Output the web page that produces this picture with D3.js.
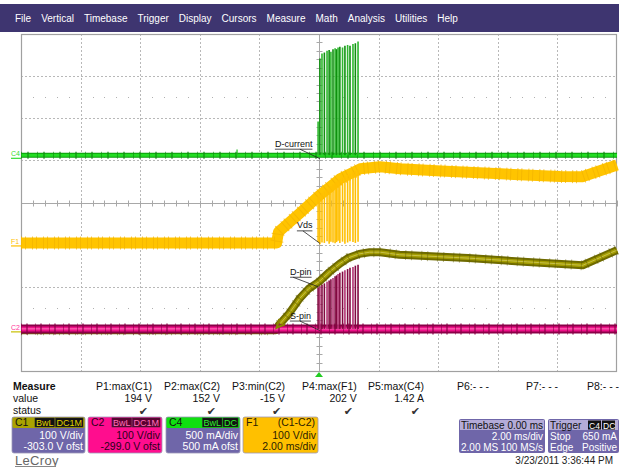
<!DOCTYPE html>
<html><head><meta charset="utf-8">
<script src="https://cdn.jsdelivr.net/npm/d3@7"></script>
<style>
body{margin:0;background:#fff;}
svg{display:block;font-family:"Liberation Sans",Arial,sans-serif;}
</style></head>
<body><svg id="c" width="619" height="467"></svg>
<script>
// ---------------- DATA ----------------
const menuItems = ["File","Vertical","Timebase","Trigger","Display","Cursors","Measure","Math","Analysis","Utilities","Help"];

// time in ms, 2 ms/div, 10 divisions
const c1Time  = [-10, -1.45, -1.35, -1.0, -0.65, -0.35, 0, 0.35, 0.7, 1.0, 1.35, 1.7, 2.05, 2.7, 5.0, 7.0, 8.85, 10];
const c1Volts = [0, 0, 12, 40, 75, 98, 115, 138, 158, 172, 181, 185, 185, 179, 171, 162, 154, 190];

const f1Time  = [-10, -1.42, -1.36, -1.3, -0.64, 0, 0.7, 1.38, 2.05, 2.72, 4.1, 6.1, 8.1, 8.83, 10];
const f1Volts = [0, 0, 26, 30, 71, 112, 152, 176, 181, 176, 171, 164, 158, 157, 185];

const c2Time  = [-10, 10];
const c2Volts = [0, 0];

const c4Time  = [-10, 10];
const c4Amps  = [0, 0];
const c4GlitchTime = [-2.75];
const c4GlitchAmps = [0.07];

// switching pulses
const pulseTime = [-0.03, 0.03, 0.10, 0.18, 0.27, 0.34, 0.40, 0.47, 0.54, 0.59, 0.64, 0.70, 0.79, 0.87, 0.96, 1.04, 1.14, 1.22, 1.31];
const c4Peak    = [0.40, 1.15, 1.21, 1.22, 1.24, 1.25, 1.23, 1.26, 1.27, 1.26, 1.28, 1.29, 1.28, 1.30, 1.31, 1.30, 1.32, 1.33, 1.35];
const c2Peak    = [98, 102, 105, 108, 112, 115, 118, 121, 125, 127, 130, 133, 136, 139, 142, 145, 147, 150, 152];
const f1Dip     = [2, -3, 1, 0, 4, -2, 3, 1, -1, 2, 5, 0, 3, -2, 1, 4, 2, 0, 3];

// channel settings: units per division and trace zero position (divisions from centre)
const channels = {
  C1: {perDiv: 100, zeroDiv: -3.03},
  C2: {perDiv: 100, zeroDiv: -3.0},
  C4: {perDiv: 0.5, zeroDiv: 1.12},
  F1: {perDiv: 100, zeroDiv: -0.96}
};

const annotations = [
  {label: "D-current", ch: "C4", t: 0.03,  v: -0.04, dx: -45, dy: -12, lead: 25},
  {label: "Vds",       ch: "F1", t: 0.03,  v: -1,    dx: -23, dy: -15, lead: 6},
  {label: "D-pin",     ch: "C1", t: -0.03, v: 103,   dx: -28, dy: -12, lead: 3},
  {label: "S-pin",     ch: "C2", t: 0.03,  v: -4,    dx: -30, dy: -12, lead: 10}
];

const measureLabels = ["P1:max(C1)","P2:max(C2)","P3:min(C2)","P4:max(F1)","P5:max(C4)","P6:- - -","P7:- - -","P8:- - -"];
const measureValues = ["194 V","152 V","-15 V","202 V","1.42 A","","",""];
const measureStatus = [true,true,true,true,true,false,false,false];

const chanBoxes = [
  {name:"C1", head:["BwL","DC1M"], l1:"100 V/div", l2:"-303.0 V ofst", headFill:"#aaa300", bodyFill:"#6f66a9", text:"#fff", badgeFill:"#111", badgeText:"#e0d400", nameText:"#111"},
  {name:"C2", head:["BwL","DC1M"], l1:"100 V/div", l2:"-299.0 V ofst", headFill:"#ff0d8e", bodyFill:"#ff0d8e", text:"#2a0018", badgeFill:"#5a0030", badgeText:"#ff70b8", nameText:"#2a0018"},
  {name:"C4", head:["BwL","DC"],   l1:"500 mA/div", l2:"500 mA ofst",  headFill:"#10e010", bodyFill:"#6f66a9", text:"#fff", badgeFill:"#111", badgeText:"#30f030", nameText:"#111"},
  {name:"F1", head:["(C1-C2)"],    l1:"100 V/div", l2:"2.00 ms/div",   headFill:"#ffc000", bodyFill:"#ffc000", text:"#2a2000", badgeFill:null, badgeText:"#2a2000", nameText:"#2a2000"}
];

// ---------------- DRAW ----------------
const svg = d3.select("#c");
const W = 619, H = 467;
const plot = {l: 21, r: 617, t: 34, b: 371};
const x = d3.scaleLinear().domain([-10, 10]).range([plot.l, plot.r]);
const yDiv = d3.scaleLinear().domain([-4, 4]).range([plot.b, plot.t]);
const yCh = (ch, v) => yDiv(v / channels[ch].perDiv + channels[ch].zeroDiv);

// menu bar
svg.append("rect").attr("x", 0).attr("y", 4).attr("width", W).attr("height", 28).attr("fill", "#3e3570");
let mx = 15;
menuItems.forEach(m => {
  const t = svg.append("text").attr("x", mx).attr("y", 22).attr("fill", "#fff")
    .attr("font-size", 10).text(m);
  mx += t.node().getComputedTextLength() + 10;
});

// grid
const g = svg.append("g");
const xDivs = d3.range(-10, 10.01, 2);
const yDivs = d3.range(-4, 4.01, 1);
g.selectAll(".vg").data(xDivs.filter(d => d !== 0 && Math.abs(d) !== 10)).join("line")
  .attr("x1", d => Math.round(x(d)) + 0.5).attr("x2", d => Math.round(x(d)) + 0.5)
  .attr("y1", plot.t).attr("y2", plot.b).attr("stroke", "#b8b8b8").attr("stroke-dasharray", "2,2");
g.selectAll(".hg").data(yDivs.filter(d => d !== 0 && Math.abs(d) !== 4)).join("line")
  .attr("y1", d => Math.round(yDiv(d)) + 0.5).attr("y2", d => Math.round(yDiv(d)) + 0.5)
  .attr("x1", plot.l).attr("x2", plot.r).attr("stroke", "#b8b8b8").attr("stroke-dasharray", "2,2");
// centre axes with minor ticks
const cx = Math.round(x(0)) + 0.5, cy = Math.round(yDiv(0)) + 0.5;
g.append("line").attr("x1", cx).attr("x2", cx).attr("y1", plot.t).attr("y2", plot.b).attr("stroke", "#a8a8a8");
g.append("line").attr("y1", cy).attr("y2", cy).attr("x1", plot.l).attr("x2", plot.r).attr("stroke", "#a8a8a8");
const xMinor = d3.range(-10, 10.001, 0.4);
const yMinor = d3.range(-4, 4.001, 0.2);
g.selectAll(".xt").data(xMinor).join("line")
  .attr("x1", d => Math.round(x(d)) + 0.5).attr("x2", d => Math.round(x(d)) + 0.5)
  .attr("y1", cy - 3).attr("y2", cy + 3).attr("stroke", "#a8a8a8");
g.selectAll(".yt").data(yMinor).join("line")
  .attr("y1", d => Math.round(yDiv(d)) + 0.5).attr("y2", d => Math.round(yDiv(d)) + 0.5)
  .attr("x1", cx - 3).attr("x2", cx + 3).attr("stroke", "#a8a8a8");
// dotted rows at +/-2.5 div
[2.5, -2.5].forEach(r => {
  g.selectAll(null).data(xMinor.filter(d => Math.abs(Math.round(d * 10) % 20) > 0.1)).join("rect")
    .attr("x", d => Math.round(x(d))).attr("y", Math.round(yDiv(r)))
    .attr("width", 1).attr("height", 1).attr("fill", "#b0b0b0");
});
// border
g.append("rect").attr("x", plot.l + 0.5).attr("y", plot.t + 0.5)
  .attr("width", plot.r - plot.l - 1).attr("height", plot.b - plot.t)
  .attr("fill", "none").attr("stroke", "#a0a0a0").attr("stroke-width", 1.2);

const tr = svg.append("g");
const pathFor = (ch, ts, vs) => d3.line().x((d, i) => x(ts[i])).y((d, i) => yCh(ch, vs[i]))(ts);
const baseAt = (ts, vs, t) => {
  const i = d3.bisectRight(ts, t);
  if (i <= 0) return vs[0];
  if (i >= ts.length) return vs[vs.length - 1];
  const f = (t - ts[i - 1]) / (ts[i] - ts[i - 1]);
  return vs[i - 1] + f * (vs[i] - vs[i - 1]);
};

// C1 (olive) trace
const c1d = pathFor("C1", c1Time, c1Volts);
tr.append("path").attr("d", c1d).attr("fill", "none").attr("stroke", "#6f6b00").attr("stroke-width", 8).attr("stroke-linejoin", "round");
tr.append("path").attr("d", c1d).attr("fill", "none").attr("stroke", "#a39c00").attr("stroke-width", 4).attr("stroke-linejoin", "round");
tr.append("path").attr("d", c1d).attr("fill", "none").attr("stroke", "#c8c048").attr("stroke-width", 1).attr("stroke-linejoin", "round");
tr.append("path").attr("d", c1d).attr("fill", "none").attr("stroke", "#5e5a00").attr("stroke-width", 10).attr("stroke-dasharray", "1,5,1,9").attr("opacity", 0.45);

// C2 (magenta) trace + pulses
const c2d = pathFor("C2", c2Time, c2Volts);
tr.append("path").attr("d", c2d).attr("fill", "none").attr("stroke", "#8a0048").attr("stroke-width", 9);
tr.append("path").attr("d", c2d).attr("fill", "none").attr("stroke", "#ee1088").attr("stroke-width", 5);
tr.append("path").attr("d", c2d).attr("fill", "none").attr("stroke", "#ff78be").attr("stroke-width", 1);
tr.append("path").attr("d", c2d).attr("fill", "none").attr("stroke", "#8a0048").attr("stroke-width", 11).attr("stroke-dasharray", "1,4,2,7").attr("opacity", 0.6);
tr.selectAll(".c2p").data(pulseTime).join("line")
  .attr("x1", d => x(d)).attr("x2", d => x(d))
  .attr("y1", yCh("C2", 0)).attr("y2", (d, i) => yCh("C2", c2Peak[i]))
  .attr("stroke", (d, i) => i % 3 === 1 ? "#b03070" : "#820840").attr("stroke-width", 1.6);

// F1 (amber) trace + dips
const f1d = pathFor("F1", f1Time, f1Volts);
tr.append("path").attr("d", f1d).attr("fill", "none").attr("stroke", "#ffc400").attr("stroke-width", 11).attr("stroke-linejoin", "round");
tr.append("path").attr("d", f1d).attr("fill", "none").attr("stroke", "#f2b400").attr("stroke-width", 13).attr("stroke-dasharray", "1,3,1,6").attr("opacity", 0.7);
tr.selectAll(".f1p").data(pulseTime).join("line")
  .attr("x1", d => x(d)).attr("x2", d => x(d))
  .attr("y1", d => yCh("F1", baseAt(f1Time, f1Volts, d))).attr("y2", (d, i) => yCh("F1", f1Dip[i]))
  .attr("stroke", "#ffbf00").attr("stroke-width", 1.6);

// C4 (green) trace + pulses
const c4d = pathFor("C4", c4Time, c4Amps);
tr.append("path").attr("d", c4d).attr("fill", "none").attr("stroke", "#0a9a0a").attr("stroke-width", 5);
tr.append("path").attr("d", c4d).attr("fill", "none").attr("stroke", "#22dd22").attr("stroke-width", 3);
tr.append("path").attr("d", c4d).attr("fill", "none").attr("stroke", "#118811").attr("stroke-width", 7).attr("stroke-dasharray", "1,5,2,8").attr("opacity", 0.6);
tr.selectAll(".c4g").data(c4GlitchTime).join("line")
  .attr("x1", d => x(d)).attr("x2", d => x(d))
  .attr("y1", yCh("C4", 0)).attr("y2", (d, i) => yCh("C4", c4GlitchAmps[i]))
  .attr("stroke", "#22bb22").attr("stroke-width", 1.2);
tr.selectAll(".c4p").data(pulseTime).join("line")
  .attr("x1", d => x(d)).attr("x2", d => x(d))
  .attr("y1", yCh("C4", 0)).attr("y2", (d, i) => yCh("C4", c4Peak[i]))
  .attr("stroke", (d, i) => i % 2 ? "#0f8f0f" : "#2cb82c").attr("stroke-width", 1.6);

// annotation arrow on C1 rise
const tip = [x(-1.42), yCh("C1", 6)];
const from = [x(-0.05), yCh("C1", 112)];
const ang = Math.atan2(tip[1] - from[1], tip[0] - from[0]);
const wing = (a) => [tip[0] - 9 * Math.cos(ang + a), tip[1] - 9 * Math.sin(ang + a)];
tr.append("path").attr("d", d3.line()([wing(0.45), tip, wing(-0.45)]))
  .attr("fill", "none").attr("stroke", "#8a8400").attr("stroke-width", 2.2);

// annotations
const an = svg.append("g").attr("font-size", 9).attr("fill", "#111");
annotations.forEach(a => {
  const ax = x(a.t), ay = yCh(a.ch, a.v);
  const tx = ax + a.dx, ty = ay + a.dy;
  const t = an.append("text").attr("x", tx).attr("y", ty).text(a.label);
  const w = t.node().getComputedTextLength();
  an.append("line").attr("x1", tx).attr("x2", tx + w).attr("y1", ty + 2.5).attr("y2", ty + 2.5).attr("stroke", "#222").attr("stroke-width", 0.8);
  an.append("line").attr("x1", tx + a.lead).attr("y1", ty + 2.5).attr("x2", ax).attr("y2", ay).attr("stroke", "#222").attr("stroke-width", 0.8);
});

// channel markers left
const markers = [
  {name: "C4", ch: "C4", col: "#33dd33", ul: "#33dd33"},
  {name: "F1", ch: "F1", col: "#ffc000", ul: "#ffc000"},
  {name: "C2", ch: "C2", col: "#ff3399", ul: "#c8c000"}
];
markers.forEach(m => {
  const yy = yCh(m.ch, 0);
  svg.append("text").attr("x", 11).attr("y", yy + 1).attr("font-size", 7).attr("fill", m.col).text(m.name);
  svg.append("line").attr("x1", 11).attr("x2", plot.l).attr("y1", yy + 3).attr("y2", yy + 3).attr("stroke", m.ul).attr("stroke-width", 1.2);
});

// trigger marker
svg.append("path").attr("d", d3.line()([[x(0) - 4, plot.b + 6], [x(0), plot.b + 1], [x(0) + 4, plot.b + 6]]) + "Z")
  .attr("fill", "#22cc22");

// measure table
const mt = svg.append("g").attr("font-size", 10.5).attr("fill", "#111");
mt.append("text").attr("x", 13).attr("y", 390).attr("font-weight", "bold").text("Measure");
mt.append("text").attr("x", 13).attr("y", 402).text("value");
mt.append("text").attr("x", 13).attr("y", 414).text("status");
const colX = [96, 164, 232, 302, 368, 457, 526, 587];
measureLabels.forEach((lab, i) => {
  const t = mt.append("text").attr("x", colX[i]).attr("y", 390).text(lab);
  const w = t.node().getComputedTextLength();
  if (measureValues[i]) mt.append("text").attr("x", colX[i] + w).attr("y", 402).attr("text-anchor", "end").text(measureValues[i]);
  if (measureStatus[i]) mt.append("text").attr("x", colX[i] + w - 4).attr("y", 415).attr("text-anchor", "end")
    .attr("font-family", "DejaVu Sans").attr("font-size", 11).attr("fill", "#333").text("\u2714");
});

// channel boxes
const bx0 = [12, 88, 166, 243], bw = [73, 74, 74, 75];
const by = 417, bh = 36, hh = 11;
chanBoxes.forEach((b, i) => {
  const gg = svg.append("g").attr("font-size", 10.5);
  const X = bx0[i], Wd = bw[i];
  gg.append("rect").attr("x", X).attr("y", by).attr("width", Wd).attr("height", bh).attr("rx", 2).attr("fill", b.bodyFill);
  gg.append("rect").attr("x", X).attr("y", by).attr("width", Wd).attr("height", hh).attr("rx", 2).attr("fill", b.headFill);
  gg.append("rect").attr("x", X).attr("y", by).attr("width", Wd).attr("height", bh).attr("rx", 2).attr("fill", "none").attr("stroke", "#9c98b8").attr("stroke-width", 0.8);
  gg.append("text").attr("x", X + 3).attr("y", by + 9).attr("fill", b.nameText).text(b.name);
  let rx = X + Wd - 2;
  b.head.slice().reverse().forEach(h => {
    const t = gg.append("text").attr("x", rx - 1).attr("y", by + 9).attr("text-anchor", "end").attr("fill", b.badgeText).attr("font-size", b.badgeFill ? 9 : 10.5).text(h);
    const w = t.node().getComputedTextLength();
    if (b.badgeFill) {
      gg.insert("rect", () => t.node()).attr("x", rx - w - 2).attr("y", by + 1).attr("width", w + 2).attr("height", 9).attr("fill", b.badgeFill).attr("stroke", "#333").attr("stroke-width", 0.5);
    }
    rx -= w + 3;
  });
  gg.append("text").attr("x", X + Wd - 2).attr("y", by + 22).attr("text-anchor", "end").attr("fill", b.text).text(b.l1);
  gg.append("text").attr("x", X + Wd - 2).attr("y", by + 33).attr("text-anchor", "end").attr("fill", b.text).text(b.l2);
});

// timebase / trigger boxes
const tb = svg.append("g").attr("font-size", 10);
const tbX = 459, tbW = 86, trX = 548, trW = 71, tby = 419, tbh = 34;
[[tbX, tbW], [trX, trW]].forEach(([X, Wd]) => {
  tb.append("rect").attr("x", X).attr("y", tby).attr("width", Wd).attr("height", tbh).attr("rx", 2).attr("fill", "#6f66a9");
  tb.append("rect").attr("x", X + 1).attr("y", tby + 1).attr("width", Wd - 2).attr("height", 10).attr("fill", "#b4acd8");
});
tb.append("text").attr("x", tbX + 2).attr("y", tby + 9.5).attr("fill", "#111").text("Timebase");
tb.append("text").attr("x", tbX + tbW - 2).attr("y", tby + 9.5).attr("text-anchor", "end").attr("fill", "#111").text("0.00 ms");
tb.append("text").attr("x", tbX + tbW - 2).attr("y", tby + 21).attr("text-anchor", "end").attr("fill", "#fff").text("2.00 ms/div");
tb.append("text").attr("x", tbX + 2).attr("y", tby + 32).attr("fill", "#fff").text("2.00 MS");
tb.append("text").attr("x", tbX + tbW - 2).attr("y", tby + 32).attr("text-anchor", "end").attr("fill", "#fff").text("100 MS/s");
tb.append("text").attr("x", trX + 2).attr("y", tby + 9.5).attr("fill", "#111").text("Trigger");
[["C4", trX + 41], ["DC", trX + 55]].forEach(([s, px]) => {
  tb.append("rect").attr("x", px - 1).attr("y", tby + 1.5).attr("width", 13).attr("height", 9).attr("fill", "#111");
  tb.append("text").attr("x", px).attr("y", tby + 9.5).attr("font-size", 8.5).attr("fill", "#fff").text(s);
});
tb.append("text").attr("x", trX + 2).attr("y", tby + 21).attr("fill", "#fff").text("Stop");
tb.append("text").attr("x", trX + trW - 2).attr("y", tby + 21).attr("text-anchor", "end").attr("fill", "#fff").text("650 mA");
tb.append("text").attr("x", trX + 2).attr("y", tby + 32).attr("fill", "#fff").text("Edge");
tb.append("text").attr("x", trX + trW - 2).attr("y", tby + 32).attr("text-anchor", "end").attr("fill", "#fff").text("Positive");

// footer
svg.append("text").attr("x", 15).attr("y", 465).attr("font-size", 13).attr("fill", "#666").attr("letter-spacing", 0.3).text("LeCroy");
svg.append("line").attr("x1", 15).attr("x2", 56).attr("y1", 466.5).attr("y2", 466.5).attr("stroke", "#888");
svg.append("text").attr("x", 613).attr("y", 464).attr("text-anchor", "end").attr("font-size", 10).attr("fill", "#222").text("3/23/2011 3:36:44 PM");
</script>
</body></html>
